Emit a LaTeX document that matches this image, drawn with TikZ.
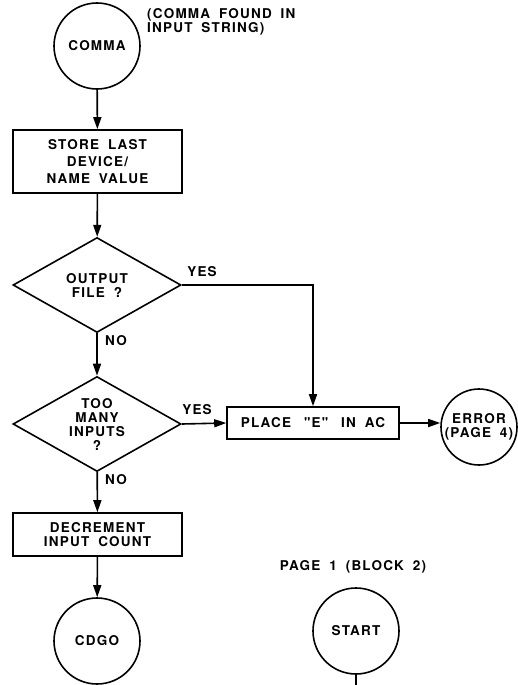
\documentclass[tikz,border=0pt]{standalone}
\usepackage{fontspec}
\setmainfont{TeX Gyre Heros}[Ligatures=TeXOff,LetterSpace=9,WordSpace=1.8]
\usetikzlibrary{shapes.geometric,arrows.meta}
\begin{document}
\begin{tikzpicture}[x=1pt,y=-1pt,
  every node/.style={font=\fontsize{13.5}{14}\selectfont\bfseries, inner sep=0pt},
  lbl/.style={line width=1.6pt, draw, align=center},
  term/.style={lbl, circle},
  proc/.style={lbl, rectangle},
  dec/.style={lbl, diamond, aspect=1.77, minimum width=168pt, minimum height=95pt},
  flow/.style={line width=1.6pt, -{Triangle[length=12pt,width=8pt]}},
  plain/.style={line width=1.6pt}]
\useasboundingbox (0,0) rectangle (517,685);
\node[term, minimum size=86pt] (comma) at (97,46) {COMMA};
\node[anchor=west, align=left] (note) at (147,22) {(COMMA FOUND IN\\INPUT STRING)};
\node[proc, minimum width=169pt, minimum height=63pt, font=\fontsize{13.5}{17}\selectfont\bfseries] (store) at (97.5,161.5) {STORE LAST\\DEVICE/\\NAME VALUE};
\node[dec] (d1) at (97,285) {OUTPUT\\FILE ?};
\node[dec] (d2) at (97,424) {TOO\\MANY\\INPUTS\\?};
\node[proc, minimum width=172pt, minimum height=32pt] (place) at (313,423) {PLACE \hspace{4pt}"E"\hspace{4pt} IN AC};
\node[term, minimum size=76pt] (error) at (479,427) {ERROR\\(PAGE 4)};
\node[proc, minimum width=169pt, minimum height=43pt] (decr) at (97.5,534.5) {DECREMENT\\INPUT COUNT};
\node[term, minimum size=86pt] (cdgo) at (97,641) {CDGO};
\node (page) at (353,567) {PAGE 1 (BLOCK 2)};
\node[term, minimum size=86pt] (start) at (356,631) {START};
\coordinate (startout) at (356,685);
\node (yes1) at (202,272) {YES};
\node (no1) at (116,341) {NO};
\node (yes2) at (197,410) {YES};
\node (no2) at (116,480) {NO};
\draw[flow] (comma) -- (store);
\draw[flow] (store) -- (d1);
\draw[flow] (d1) -- (d2);
\draw[flow] (d2) -- (decr);
\draw[flow] (decr) -- (cdgo);
\draw[flow] (d1.east) -| (place.north);
\draw[flow] (d2.east) -- (place.west);
\draw[flow] (place.east) -- (place.east -| error.west);
\draw[plain] (start) -- (startout);
\end{tikzpicture}
\end{document}
